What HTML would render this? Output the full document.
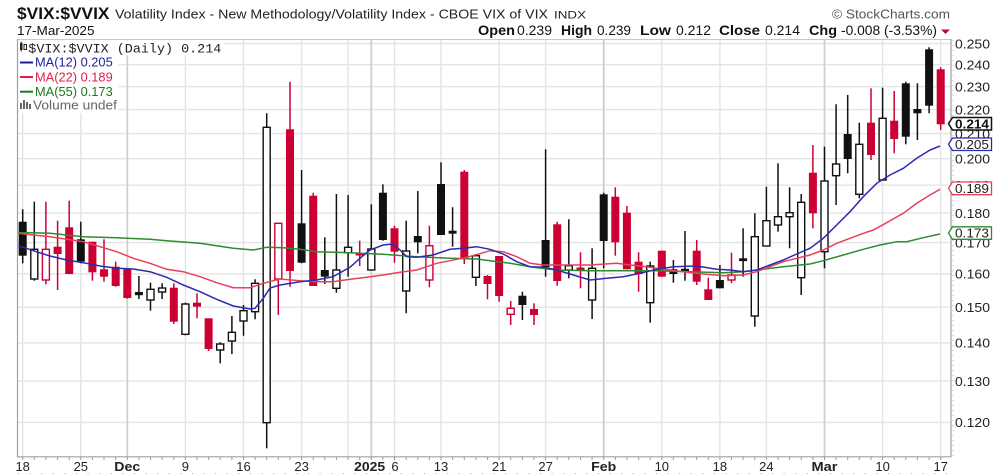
<!DOCTYPE html>
<html><head><meta charset="utf-8">
<style>
html,body{margin:0;padding:0;background:#fff;}
svg{display:block;font-family:"Liberation Sans",Arial,sans-serif;}
.g{stroke:#e4e4e4;stroke-width:1.4;}
.gd{stroke:#cfcfcf;stroke-width:1.8;}
.b line{stroke:#111;stroke-width:1.5;}
.b rect.f{fill:#111;}
.b rect.h{fill:#fff;stroke:#111;stroke-width:1.4;}
.r line{stroke:#cc0033;stroke-width:1.5;}
.r rect.f{fill:#cc0033;}
.r rect.h{fill:#fff;stroke:#cc0033;stroke-width:1.4;}
.ax{font-size:13px;fill:#222;}
.xl{font-size:13px;fill:#222;text-anchor:middle;}
</style></head>
<body>
<svg width="1004" height="475" viewBox="0 0 1004 475" xmlns="http://www.w3.org/2000/svg">
<rect x="0" y="0" width="1004" height="475" fill="#fff"/>

<!-- header -->
<text x="17" y="19" font-size="17" font-weight="bold" fill="#111" textLength="92.5" lengthAdjust="spacingAndGlyphs">$VIX:$VVIX</text>
<text x="115" y="18.5" font-size="13" fill="#222" textLength="433" lengthAdjust="spacingAndGlyphs">Volatility Index - New Methodology/Volatility Index - CBOE VIX of VIX</text>
<text x="554" y="18.5" font-size="11" fill="#222" textLength="32" lengthAdjust="spacingAndGlyphs">INDX</text>
<text x="832" y="18.5" font-size="13" fill="#555" textLength="118" lengthAdjust="spacingAndGlyphs">© StockCharts.com</text>
<text x="17" y="35" font-size="13" fill="#111" textLength="77.5" lengthAdjust="spacingAndGlyphs">17-Mar-2025</text>
<g font-size="13.5" fill="#111">
<text x="478" y="35" font-weight="bold" textLength="37" lengthAdjust="spacingAndGlyphs">Open</text>
<text x="517" y="35" textLength="35" lengthAdjust="spacingAndGlyphs">0.239</text>
<text x="561" y="35" font-weight="bold" textLength="31" lengthAdjust="spacingAndGlyphs">High</text>
<text x="597" y="35" textLength="34" lengthAdjust="spacingAndGlyphs">0.239</text>
<text x="640" y="35" font-weight="bold" textLength="31" lengthAdjust="spacingAndGlyphs">Low</text>
<text x="676" y="35" textLength="35" lengthAdjust="spacingAndGlyphs">0.212</text>
<text x="719" y="35" font-weight="bold" textLength="41" lengthAdjust="spacingAndGlyphs">Close</text>
<text x="765" y="35" textLength="35" lengthAdjust="spacingAndGlyphs">0.214</text>
<text x="809" y="35" font-weight="bold" textLength="28" lengthAdjust="spacingAndGlyphs">Chg</text>
<text x="841" y="35" textLength="96" lengthAdjust="spacingAndGlyphs">-0.008 (-3.53%)</text>
</g>
<polygon points="941,29.5 950,29.5 945.5,34" fill="#b0103a"/>

<!-- horizontal gridlines -->
<g class="g">
<line x1="17.5" y1="43.6" x2="951" y2="43.6"/>
<line x1="17.5" y1="64.7" x2="951" y2="64.7"/>
<line x1="17.5" y1="86.6" x2="951" y2="86.6"/>
<line x1="17.5" y1="109.6" x2="951" y2="109.6"/>
<line x1="17.5" y1="133.6" x2="951" y2="133.6"/>
<line x1="17.5" y1="158.7" x2="951" y2="158.7"/>
<line x1="17.5" y1="185.2" x2="951" y2="185.2"/>
<line x1="17.5" y1="213.1" x2="951" y2="213.1"/>
<line x1="17.5" y1="242.6" x2="951" y2="242.6"/>
<line x1="17.5" y1="273.9" x2="951" y2="273.9"/>
<line x1="17.5" y1="307.2" x2="951" y2="307.2"/>
<line x1="17.5" y1="342.9" x2="951" y2="342.9"/>
<line x1="17.5" y1="381.1" x2="951" y2="381.1"/>
<line x1="17.5" y1="422.4" x2="951" y2="422.4"/>
</g>
<!-- vertical gridlines -->
<g class="g">
<line x1="22.7" y1="39.5" x2="22.7" y2="456.5"/>
<line x1="80.8" y1="39.5" x2="80.8" y2="456.5"/>
<line x1="185.4" y1="39.5" x2="185.4" y2="456.5"/>
<line x1="243.5" y1="39.5" x2="243.5" y2="456.5"/>
<line x1="301.6" y1="39.5" x2="301.6" y2="456.5"/>
<line x1="348.1" y1="39.5" x2="348.1" y2="456.5"/>
<line x1="394.5" y1="39.5" x2="394.5" y2="456.5"/>
<line x1="441" y1="39.5" x2="441" y2="456.5"/>
<line x1="499.1" y1="39.5" x2="499.1" y2="456.5"/>
<line x1="545.6" y1="39.5" x2="545.6" y2="456.5"/>
<line x1="661.8" y1="39.5" x2="661.8" y2="456.5"/>
<line x1="719.9" y1="39.5" x2="719.9" y2="456.5"/>
<line x1="766.4" y1="39.5" x2="766.4" y2="456.5"/>
<line x1="882.6" y1="39.5" x2="882.6" y2="456.5"/>
<line x1="940.7" y1="39.5" x2="940.7" y2="456.5"/>
</g>
<g class="gd">
<line x1="127.3" y1="39.5" x2="127.3" y2="456.5"/>
<line x1="371.3" y1="39.5" x2="371.3" y2="456.5"/>
<line x1="603.7" y1="39.5" x2="603.7" y2="456.5"/>
<line x1="824.5" y1="39.5" x2="824.5" y2="456.5"/>
</g>

<!-- plot frame -->
<line x1="17.5" y1="39.5" x2="951" y2="39.5" stroke="#c8c8c8" stroke-width="1"/>
<line x1="17.5" y1="39" x2="17.5" y2="457" stroke="#a0a0a0" stroke-width="1.2"/>
<line x1="17" y1="456.8" x2="951.5" y2="456.8" stroke="#a0a0a0" stroke-width="1.2"/>
<line x1="951" y1="39" x2="951" y2="457" stroke="#a0a0a0" stroke-width="1.2"/>
<line x1="953" y1="40" x2="953" y2="456" stroke="#bbb" stroke-width="1" stroke-dasharray="1,4"/>

<!-- legend -->
<rect x="18.5" y="40.5" width="205" height="15" fill="#fff"/>
<rect x="18.5" y="55" width="100" height="58" fill="#fff"/>
<g fill="#222">
<rect x="20" y="43" width="2.5" height="7"/><line x1="21.2" y1="41.5" x2="21.2" y2="51.5" stroke="#222" stroke-width="1"/>
<rect x="24" y="44.5" width="2.5" height="5" fill="none" stroke="#222" stroke-width="1"/>
</g>
<text x="28.3" y="52.3" font-family="Liberation Mono, monospace" font-size="13" fill="#222" textLength="193" lengthAdjust="spacingAndGlyphs">$VIX:$VVIX (Daily) 0.214</text>
<line x1="20" y1="62.5" x2="33" y2="62.5" stroke="#1f1f9a" stroke-width="2"/>
<text x="35" y="66.7" font-size="13" fill="#1f1f9a" textLength="77.7" lengthAdjust="spacingAndGlyphs">MA(12) 0.205</text>
<line x1="20" y1="77" x2="33" y2="77" stroke="#e0204a" stroke-width="2"/>
<text x="35" y="81.3" font-size="13" fill="#e0204a" textLength="77.7" lengthAdjust="spacingAndGlyphs">MA(22) 0.189</text>
<line x1="20" y1="91.7" x2="33" y2="91.7" stroke="#1a7a1a" stroke-width="2"/>
<text x="35" y="96" font-size="13" fill="#1a7a1a" textLength="77.7" lengthAdjust="spacingAndGlyphs">MA(55) 0.173</text>
<g fill="#666">
<rect x="20" y="103" width="2" height="6"/><rect x="23" y="100" width="2" height="9"/><rect x="26" y="102" width="2" height="7"/><rect x="29" y="104" width="2" height="5"/>
</g>
<text x="33" y="109.5" font-size="13" fill="#666" textLength="84" lengthAdjust="spacingAndGlyphs">Volume undef</text>

<!-- candles -->
<g class="b"><line x1="22.7" y1="209.3" x2="22.7" y2="263.3"/><rect class="f" x="18.7" y="221.7" width="8" height="34"/></g>
<g class="b"><line x1="34.3" y1="201.7" x2="34.3" y2="249.3"/><line x1="34.3" y1="279" x2="34.3" y2="280.7"/><rect class="h" x="30.8" y="249.3" width="7" height="29.7"/></g>
<g class="r"><line x1="45.9" y1="201.7" x2="45.9" y2="249.3"/><line x1="45.9" y1="280" x2="45.9" y2="284.3"/><rect class="h" x="42.4" y="249.3" width="7" height="30.7"/></g>
<g class="r"><line x1="57.6" y1="220.7" x2="57.6" y2="290"/><rect class="f" x="53.6" y="246.7" width="8" height="7.3"/></g>
<g class="r"><line x1="69.2" y1="200.7" x2="69.2" y2="274"/><rect class="f" x="65.2" y="227.3" width="8" height="46.7"/></g>
<g class="b"><line x1="80.8" y1="221.7" x2="80.8" y2="263.3"/><rect class="f" x="76.8" y="239.3" width="8" height="22.4"/></g>
<g class="r"><line x1="92.4" y1="241.7" x2="92.4" y2="280.7"/><rect class="f" x="88.4" y="241.7" width="8" height="30.6"/></g>
<g class="r"><line x1="104" y1="239.3" x2="104" y2="281.7"/><rect class="f" x="100" y="269.3" width="8" height="7.4"/></g>
<g class="r"><line x1="115.7" y1="261.7" x2="115.7" y2="286.7"/><rect class="f" x="111.7" y="266.7" width="8" height="19.3"/></g>
<g class="r"><line x1="127.3" y1="269.3" x2="127.3" y2="298.7"/><rect class="f" x="123.3" y="269.3" width="8" height="28.7"/></g>
<g class="b"><line x1="138.9" y1="276" x2="138.9" y2="299"/><rect class="f" x="134.9" y="292" width="8" height="3.2"/></g>
<g class="b"><line x1="150.5" y1="282.7" x2="150.5" y2="289.3"/><line x1="150.5" y1="300" x2="150.5" y2="310.7"/><rect class="h" x="147" y="289.3" width="7" height="10.7"/></g>
<g class="b"><line x1="162.1" y1="283.3" x2="162.1" y2="288"/><line x1="162.1" y1="292" x2="162.1" y2="299"/><rect class="h" x="158.6" y="288" width="7" height="4"/></g>
<g class="r"><line x1="173.8" y1="283.3" x2="173.8" y2="324"/><rect class="f" x="169.8" y="287.7" width="8" height="34"/></g>
<g class="b"><line x1="185.4" y1="302.7" x2="185.4" y2="304"/><line x1="185.4" y1="334.3" x2="185.4" y2="335.3"/><rect class="h" x="181.9" y="304" width="7" height="30.3"/></g>
<g class="r"><line x1="197" y1="293.3" x2="197" y2="318.3"/><rect class="f" x="193" y="302.7" width="8" height="4"/></g>
<g class="r"><line x1="208.6" y1="318.3" x2="208.6" y2="351"/><rect class="f" x="204.6" y="318.3" width="8" height="30.7"/></g>
<g class="b"><line x1="220.2" y1="342.3" x2="220.2" y2="344"/><line x1="220.2" y1="350" x2="220.2" y2="363.3"/><rect class="h" x="216.7" y="344" width="7" height="6"/></g>
<g class="b"><line x1="231.9" y1="316" x2="231.9" y2="332.3"/><line x1="231.9" y1="341" x2="231.9" y2="354"/><rect class="h" x="228.4" y="332.3" width="7" height="8.7"/></g>
<g class="b"><line x1="243.5" y1="305" x2="243.5" y2="310.7"/><line x1="243.5" y1="321" x2="243.5" y2="335.7"/><rect class="h" x="240" y="310.7" width="7" height="10.3"/></g>
<g class="b"><line x1="255.1" y1="279.3" x2="255.1" y2="283.3"/><line x1="255.1" y1="311.7" x2="255.1" y2="319.3"/><rect class="h" x="251.6" y="283.3" width="7" height="28.4"/></g>
<g class="b"><line x1="266.7" y1="113.3" x2="266.7" y2="127.3"/><line x1="266.7" y1="422.7" x2="266.7" y2="448.3"/><rect class="h" x="263.2" y="127.3" width="7" height="295.4"/></g>
<g class="r"><line x1="278.3" y1="279" x2="278.3" y2="315"/><rect class="h" x="274.8" y="223.3" width="7" height="55.7"/></g>
<g class="r"><line x1="290" y1="81.7" x2="290" y2="286.7"/><rect class="f" x="286" y="129.3" width="8" height="141.7"/></g>
<g class="b"><line x1="301.6" y1="170" x2="301.6" y2="263.3"/><rect class="f" x="297.6" y="223.3" width="8" height="39.4"/></g>
<g class="r"><line x1="313.2" y1="192.7" x2="313.2" y2="286"/><rect class="f" x="309.2" y="195.7" width="8" height="90.3"/></g>
<g class="b"><line x1="324.8" y1="237.3" x2="324.8" y2="284"/><rect class="f" x="320.8" y="270" width="8" height="6.7"/></g>
<g class="b"><line x1="336.4" y1="194" x2="336.4" y2="270"/><line x1="336.4" y1="288.3" x2="336.4" y2="292.7"/><rect class="h" x="332.9" y="270" width="7" height="18.3"/></g>
<g class="b"><line x1="348.1" y1="195" x2="348.1" y2="247.3"/><line x1="348.1" y1="252.7" x2="348.1" y2="276.7"/><rect class="h" x="344.6" y="247.3" width="7" height="5.4"/></g>
<g class="r"><line x1="359.7" y1="240.7" x2="359.7" y2="266"/><rect class="f" x="355.7" y="253" width="8" height="2.5"/></g>
<g class="b"><line x1="371.3" y1="204.3" x2="371.3" y2="249"/><rect class="h" x="367.8" y="249" width="7" height="21"/></g>
<g class="b"><line x1="382.9" y1="184.3" x2="382.9" y2="240.7"/><rect class="f" x="378.9" y="192.7" width="8" height="47.3"/></g>
<g class="r"><line x1="394.5" y1="225.7" x2="394.5" y2="262.7"/><rect class="f" x="390.5" y="228.3" width="8" height="23.4"/></g>
<g class="b"><line x1="406.2" y1="220.7" x2="406.2" y2="251"/><line x1="406.2" y1="291" x2="406.2" y2="313.3"/><rect class="h" x="402.7" y="251" width="7" height="40"/></g>
<g class="b"><line x1="417.8" y1="191" x2="417.8" y2="253.3"/><rect class="f" x="413.8" y="236" width="8" height="6.3"/></g>
<g class="r"><line x1="429.4" y1="225.7" x2="429.4" y2="245.7"/><line x1="429.4" y1="280" x2="429.4" y2="287.3"/><rect class="h" x="425.9" y="245.7" width="7" height="34.3"/></g>
<g class="b"><line x1="441" y1="162.3" x2="441" y2="235"/><rect class="f" x="437" y="184" width="8" height="51"/></g>
<g class="b"><line x1="452.6" y1="207.3" x2="452.6" y2="246.7"/><rect class="f" x="448.6" y="230.7" width="8" height="3"/></g>
<g class="r"><line x1="464.3" y1="170" x2="464.3" y2="264"/><rect class="f" x="460.3" y="171.7" width="8" height="86.6"/></g>
<g class="b"><line x1="475.9" y1="277.3" x2="475.9" y2="286"/><rect class="h" x="472.4" y="255.7" width="7" height="21.6"/></g>
<g class="r"><line x1="487.5" y1="275" x2="487.5" y2="299.3"/><rect class="f" x="483.5" y="276" width="8" height="8"/></g>
<g class="r"><line x1="499.1" y1="256" x2="499.1" y2="301.7"/><rect class="f" x="495.1" y="256" width="8" height="40"/></g>
<g class="r"><line x1="510.7" y1="301" x2="510.7" y2="308.3"/><line x1="510.7" y1="314.3" x2="510.7" y2="325"/><rect class="h" x="507.2" y="308.3" width="7" height="6"/></g>
<g class="b"><line x1="522.4" y1="291.7" x2="522.4" y2="320"/><rect class="f" x="518.4" y="295.7" width="8" height="9.3"/></g>
<g class="r"><line x1="534" y1="303.3" x2="534" y2="325"/><rect class="f" x="530" y="309" width="8" height="6"/></g>
<g class="b"><line x1="545.6" y1="149.3" x2="545.6" y2="276.7"/><rect class="f" x="541.6" y="240" width="8" height="27.3"/></g>
<g class="r"><line x1="557.2" y1="221.7" x2="557.2" y2="285.7"/><rect class="f" x="553.2" y="224.3" width="8" height="56.7"/></g>
<g class="b"><line x1="568.8" y1="219.3" x2="568.8" y2="265.7"/><line x1="568.8" y1="270" x2="568.8" y2="278.3"/><rect class="h" x="565.3" y="265.7" width="7" height="4.3"/></g>
<g class="r"><line x1="580.5" y1="252.3" x2="580.5" y2="288.3"/><rect class="f" x="576.5" y="267.5" width="8" height="2.8"/></g>
<g class="b"><line x1="592.1" y1="248.3" x2="592.1" y2="268.3"/><line x1="592.1" y1="300" x2="592.1" y2="319"/><rect class="h" x="588.6" y="268.3" width="7" height="31.7"/></g>
<g class="b"><line x1="603.7" y1="192.7" x2="603.7" y2="268.3"/><rect class="f" x="599.7" y="194.3" width="8" height="46.7"/></g>
<g class="r"><line x1="615.3" y1="187.3" x2="615.3" y2="255.7"/><rect class="f" x="611.3" y="196.7" width="8" height="45.6"/></g>
<g class="r"><line x1="626.9" y1="206" x2="626.9" y2="269.3"/><rect class="f" x="622.9" y="212.7" width="8" height="56.6"/></g>
<g class="r"><line x1="638.6" y1="252.3" x2="638.6" y2="291.7"/><rect class="f" x="634.6" y="261.7" width="8" height="12.3"/></g>
<g class="b"><line x1="650.2" y1="261.7" x2="650.2" y2="266"/><line x1="650.2" y1="302.7" x2="650.2" y2="322.7"/><rect class="h" x="646.7" y="266" width="7" height="36.7"/></g>
<g class="r"><line x1="661.8" y1="250.7" x2="661.8" y2="276.7"/><rect class="f" x="657.8" y="250.7" width="8" height="26"/></g>
<g class="b"><line x1="673.4" y1="260" x2="673.4" y2="282.7"/><rect class="f" x="669.4" y="269.3" width="8" height="4.7"/></g>
<g class="b"><line x1="685" y1="231" x2="685" y2="280.7"/><rect class="f" x="681" y="268.8" width="8" height="2.4"/></g>
<g class="r"><line x1="696.7" y1="240" x2="696.7" y2="285"/><rect class="f" x="692.7" y="250.7" width="8" height="31"/></g>
<g class="r"><line x1="708.3" y1="277.7" x2="708.3" y2="300"/><rect class="f" x="704.3" y="289.3" width="8" height="10.7"/></g>
<g class="b"><line x1="719.9" y1="265" x2="719.9" y2="288.3"/><rect class="f" x="715.9" y="280" width="8" height="8.3"/></g>
<g class="r"><line x1="731.5" y1="252.7" x2="731.5" y2="275"/><line x1="731.5" y1="280" x2="731.5" y2="283.3"/><rect class="h" x="728" y="275" width="7" height="5"/></g>
<g class="b"><line x1="743.1" y1="228.3" x2="743.1" y2="276.7"/><rect class="f" x="739.1" y="258.3" width="8" height="2.8"/></g>
<g class="b"><line x1="754.8" y1="213.3" x2="754.8" y2="236.7"/><line x1="754.8" y1="316" x2="754.8" y2="326.7"/><rect class="h" x="751.3" y="236.7" width="7" height="79.3"/></g>
<g class="b"><line x1="766.4" y1="186.7" x2="766.4" y2="220.7"/><rect class="h" x="762.9" y="220.7" width="7" height="25.3"/></g>
<g class="b"><line x1="778" y1="163.3" x2="778" y2="216.7"/><line x1="778" y1="225" x2="778" y2="231.7"/><rect class="h" x="774.5" y="216.7" width="7" height="8.3"/></g>
<g class="b"><line x1="789.6" y1="187.3" x2="789.6" y2="212.7"/><line x1="789.6" y1="216.7" x2="789.6" y2="248.3"/><rect class="h" x="786.1" y="212.7" width="7" height="4"/></g>
<g class="b"><line x1="801.2" y1="194" x2="801.2" y2="202.3"/><line x1="801.2" y1="277.7" x2="801.2" y2="295"/><rect class="h" x="797.7" y="202.3" width="7" height="75.4"/></g>
<g class="r"><line x1="812.9" y1="145" x2="812.9" y2="228.3"/><rect class="f" x="808.9" y="172.7" width="8" height="40.6"/></g>
<g class="b"><line x1="824.5" y1="146.7" x2="824.5" y2="181"/><line x1="824.5" y1="251.7" x2="824.5" y2="268.3"/><rect class="h" x="821" y="181" width="7" height="70.7"/></g>
<g class="b"><line x1="836.1" y1="104.3" x2="836.1" y2="164"/><line x1="836.1" y1="175.7" x2="836.1" y2="205"/><rect class="h" x="832.6" y="164" width="7" height="11.7"/></g>
<g class="b"><line x1="847.7" y1="95" x2="847.7" y2="173.3"/><rect class="f" x="843.7" y="134" width="8" height="25"/></g>
<g class="b"><line x1="859.3" y1="122.7" x2="859.3" y2="144.3"/><line x1="859.3" y1="194.3" x2="859.3" y2="198.3"/><rect class="h" x="855.8" y="144.3" width="7" height="50"/></g>
<g class="r"><line x1="871" y1="88.3" x2="871" y2="160"/><rect class="f" x="867" y="122.7" width="8" height="32.3"/></g>
<g class="b"><line x1="882.6" y1="87.7" x2="882.6" y2="118.3"/><rect class="h" x="879.1" y="118.3" width="7" height="61.7"/></g>
<g class="r"><line x1="894.2" y1="91" x2="894.2" y2="153.3"/><rect class="f" x="890.2" y="120.7" width="8" height="18.3"/></g>
<g class="b"><line x1="905.8" y1="81.7" x2="905.8" y2="144.3"/><rect class="f" x="901.8" y="83.3" width="8" height="53.4"/></g>
<g class="b"><line x1="917.4" y1="83.3" x2="917.4" y2="140"/><rect class="f" x="913.4" y="109" width="8" height="4.3"/></g>
<g class="b"><line x1="929.1" y1="47.3" x2="929.1" y2="113.3"/><rect class="f" x="925.1" y="49.3" width="8" height="56.4"/></g>
<g class="r"><line x1="940.7" y1="67.3" x2="940.7" y2="130"/><rect class="f" x="936.7" y="69.3" width="8" height="55"/></g>

<!-- moving averages -->
<polyline fill="none" stroke="#2e8b2e" stroke-width="1.5" points="18.3,232.7 33.3,232.7 50,233.3 83.3,236.7 116.7,237.7 150,239.3 166.7,240.7 200,243.3 233.3,248.3 253.3,250 266.7,247.3 283,247.7 300,249.3 316.7,251.7 350,252.7 383,254.3 416.7,256.7 450,258.3 476.7,259 490,260.7 510,263.3 533.3,267.3 556.7,270 590,270.7 623.3,270.7 656.7,270.7 690,271.7 723.3,272.7 743.3,271.7 756.7,270 783.3,266.7 810,264 823.3,260.7 843.3,255 863.3,249.3 880,245 896.7,241.7 906.7,241.7 923.3,237.7 940,234"/>
<polyline fill="none" stroke="#e8405c" stroke-width="1.5" points="18.3,233.3 33.3,235 50,236.7 66.7,239.3 83.3,241.7 100,246.7 116.7,251.7 133.3,258.3 150,263.3 166.7,269.3 183.3,271.7 200,276.7 216.7,282.7 233.3,287.7 250,287.7 263.3,283.3 280,279 300,280.7 316.7,281.7 333,281.7 350,279.3 366.7,277.3 383,275 400,272.3 416.7,270 426.7,266.7 436.7,263.3 450,260.7 466.7,257.3 483.3,252.7 490,250.7 503.3,251.7 516.7,256.7 530,263.3 543.3,265 556.7,265 590,265 616.7,263.3 630,265 646.7,266.7 663.3,269.3 683.3,271.7 703.3,274 723.3,275.7 743.3,275 756.7,271.7 770,266.7 783.3,261.7 796.7,258.3 810,255 823.3,250 836.7,243.3 850,238.3 863.3,233.3 873.3,230 886.7,222.7 903.3,213.3 916.7,203.3 930,195 940,189.3"/>
<polyline fill="none" stroke="#2b2bb0" stroke-width="1.5" points="18.3,245.7 33.3,250.7 50,256 66.7,260 83.3,262.7 100,266 116.7,268.3 133.3,269 150,271.7 166.7,277.3 183.3,285 200,291.7 216.7,299.3 233.3,306 250,309 255,308.3 263.3,298.3 270,288 280,285 300,281.7 316.7,280 333,276.7 350,267.3 360,258.3 370,250 383,245 393,244 400,250 406.7,256.7 416.7,257.3 433,255 450,249.3 463,248.3 476.7,246.7 490,249.3 503.3,254 516.7,261.7 530,266.7 543.3,267.3 556.7,270 573.3,275 590,280 606.7,278.3 623.3,276.7 640,273.3 656.7,269.3 673.3,266.7 696.7,266 716.7,269.3 730,270 743.3,271.7 756.7,270 770,265 783.3,260 796.7,254 810,248.3 823.3,238.3 836.7,225 850,211.7 863.3,196.7 876.7,183.3 890,175 903.3,168.3 916.7,158.3 930,150 940,146"/>

<!-- right axis labels -->
<g class="ax">
<text x="955" y="48.3" textLength="35" lengthAdjust="spacingAndGlyphs">0.250</text>
<text x="955" y="69.4" textLength="35" lengthAdjust="spacingAndGlyphs">0.240</text>
<text x="955" y="91.3" textLength="35" lengthAdjust="spacingAndGlyphs">0.230</text>
<text x="955" y="114.3" textLength="35" lengthAdjust="spacingAndGlyphs">0.220</text>
<text x="955" y="138.3" textLength="35" lengthAdjust="spacingAndGlyphs">0.210</text>
<text x="955" y="163.4" textLength="35" lengthAdjust="spacingAndGlyphs">0.200</text>
<text x="955" y="189.9" textLength="35" lengthAdjust="spacingAndGlyphs">0.190</text>
<text x="955" y="217.8" textLength="35" lengthAdjust="spacingAndGlyphs">0.180</text>
<text x="955" y="247.3" textLength="35" lengthAdjust="spacingAndGlyphs">0.170</text>
<text x="955" y="278.6" textLength="35" lengthAdjust="spacingAndGlyphs">0.160</text>
<text x="955" y="311.9" textLength="35" lengthAdjust="spacingAndGlyphs">0.150</text>
<text x="955" y="347.6" textLength="35" lengthAdjust="spacingAndGlyphs">0.140</text>
<text x="955" y="385.8" textLength="35" lengthAdjust="spacingAndGlyphs">0.130</text>
<text x="955" y="427.1" textLength="35" lengthAdjust="spacingAndGlyphs">0.120</text>
</g>

<!-- value tags -->
<polygon points="948.5,123.7 952.5,117.5 991.5,117.5 991.5,130 952.5,130" fill="#fff" stroke="#111" stroke-width="1.5"/>
<text x="955" y="128.4" font-size="13" font-weight="bold" fill="#111" textLength="34" lengthAdjust="spacingAndGlyphs">0.214</text>
<polygon points="948.5,144.2 952.5,138 991.5,138 991.5,150.5 952.5,150.5" fill="#fff" stroke="#2b2bb0" stroke-width="1.3"/>
<text x="955" y="148.9" font-size="13" fill="#222" textLength="34" lengthAdjust="spacingAndGlyphs">0.205</text>
<polygon points="948.5,188.3 952.5,182 991.5,182 991.5,194.7 952.5,194.7" fill="#fff" stroke="#e8405c" stroke-width="1.3"/>
<text x="955" y="193" font-size="13" fill="#222" textLength="34" lengthAdjust="spacingAndGlyphs">0.189</text>
<polygon points="948.5,233 952.5,226.8 991.5,226.8 991.5,239.3 952.5,239.3" fill="#fff" stroke="#2e8b2e" stroke-width="1.3"/>
<text x="955" y="237.7" font-size="13" fill="#222" textLength="34" lengthAdjust="spacingAndGlyphs">0.173</text>

<!-- x axis minor ticks -->
<path stroke="#999" stroke-width="1" fill="none" d="M22.7 457v3M34.3 457v3M45.9 457v3M57.6 457v3M69.2 457v3M80.8 457v3M92.4 457v3M104 457v3M115.7 457v3M127.3 457v3M138.9 457v3M150.5 457v3M162.1 457v3M173.8 457v3M185.4 457v3M197 457v3M208.6 457v3M220.2 457v3M231.9 457v3M243.5 457v3M255.1 457v3M266.7 457v3M278.3 457v3M290 457v3M301.6 457v3M313.2 457v3M324.8 457v3M336.4 457v3M348.1 457v3M359.7 457v3M371.3 457v3M382.9 457v3M394.5 457v3M406.2 457v3M417.8 457v3M429.4 457v3M441 457v3M452.6 457v3M464.3 457v3M475.9 457v3M487.5 457v3M499.1 457v3M510.7 457v3M522.4 457v3M534 457v3M545.6 457v3M557.2 457v3M568.8 457v3M580.5 457v3M592.1 457v3M603.7 457v3M615.3 457v3M626.9 457v3M638.6 457v3M650.2 457v3M661.8 457v3M673.4 457v3M685 457v3M696.7 457v3M708.3 457v3M719.9 457v3M731.5 457v3M743.1 457v3M754.8 457v3M766.4 457v3M778 457v3M789.6 457v3M801.2 457v3M812.9 457v3M824.5 457v3M836.1 457v3M847.7 457v3M859.3 457v3M871 457v3M882.6 457v3M894.2 457v3M905.8 457v3M917.4 457v3M929.1 457v3M940.7 457v3"/>
<line x1="18" y1="473.5" x2="950" y2="473.5" stroke="#aaa" stroke-width="1" stroke-dasharray="1,10.6"/>

<!-- x axis labels -->
<g class="xl">
<text x="22.7" y="471">18</text>
<text x="80.8" y="471">25</text>
<text x="127.3" y="471" font-weight="bold" textLength="26" lengthAdjust="spacingAndGlyphs">Dec</text>
<text x="185.4" y="471">9</text>
<text x="243.5" y="471">16</text>
<text x="301.6" y="471">23</text>
<text x="369.7" y="471" font-weight="bold" textLength="31" lengthAdjust="spacingAndGlyphs">2025</text>
<text x="395" y="471">6</text>
<text x="441" y="471">13</text>
<text x="499.1" y="471">21</text>
<text x="545.6" y="471">27</text>
<text x="603.7" y="471" font-weight="bold" textLength="25" lengthAdjust="spacingAndGlyphs">Feb</text>
<text x="661.8" y="471">10</text>
<text x="719.9" y="471">18</text>
<text x="766.4" y="471">24</text>
<text x="824.5" y="471" font-weight="bold" textLength="26" lengthAdjust="spacingAndGlyphs">Mar</text>
<text x="882.6" y="471">10</text>
<text x="940.7" y="471">17</text>
</g>
</svg>
</body></html>
